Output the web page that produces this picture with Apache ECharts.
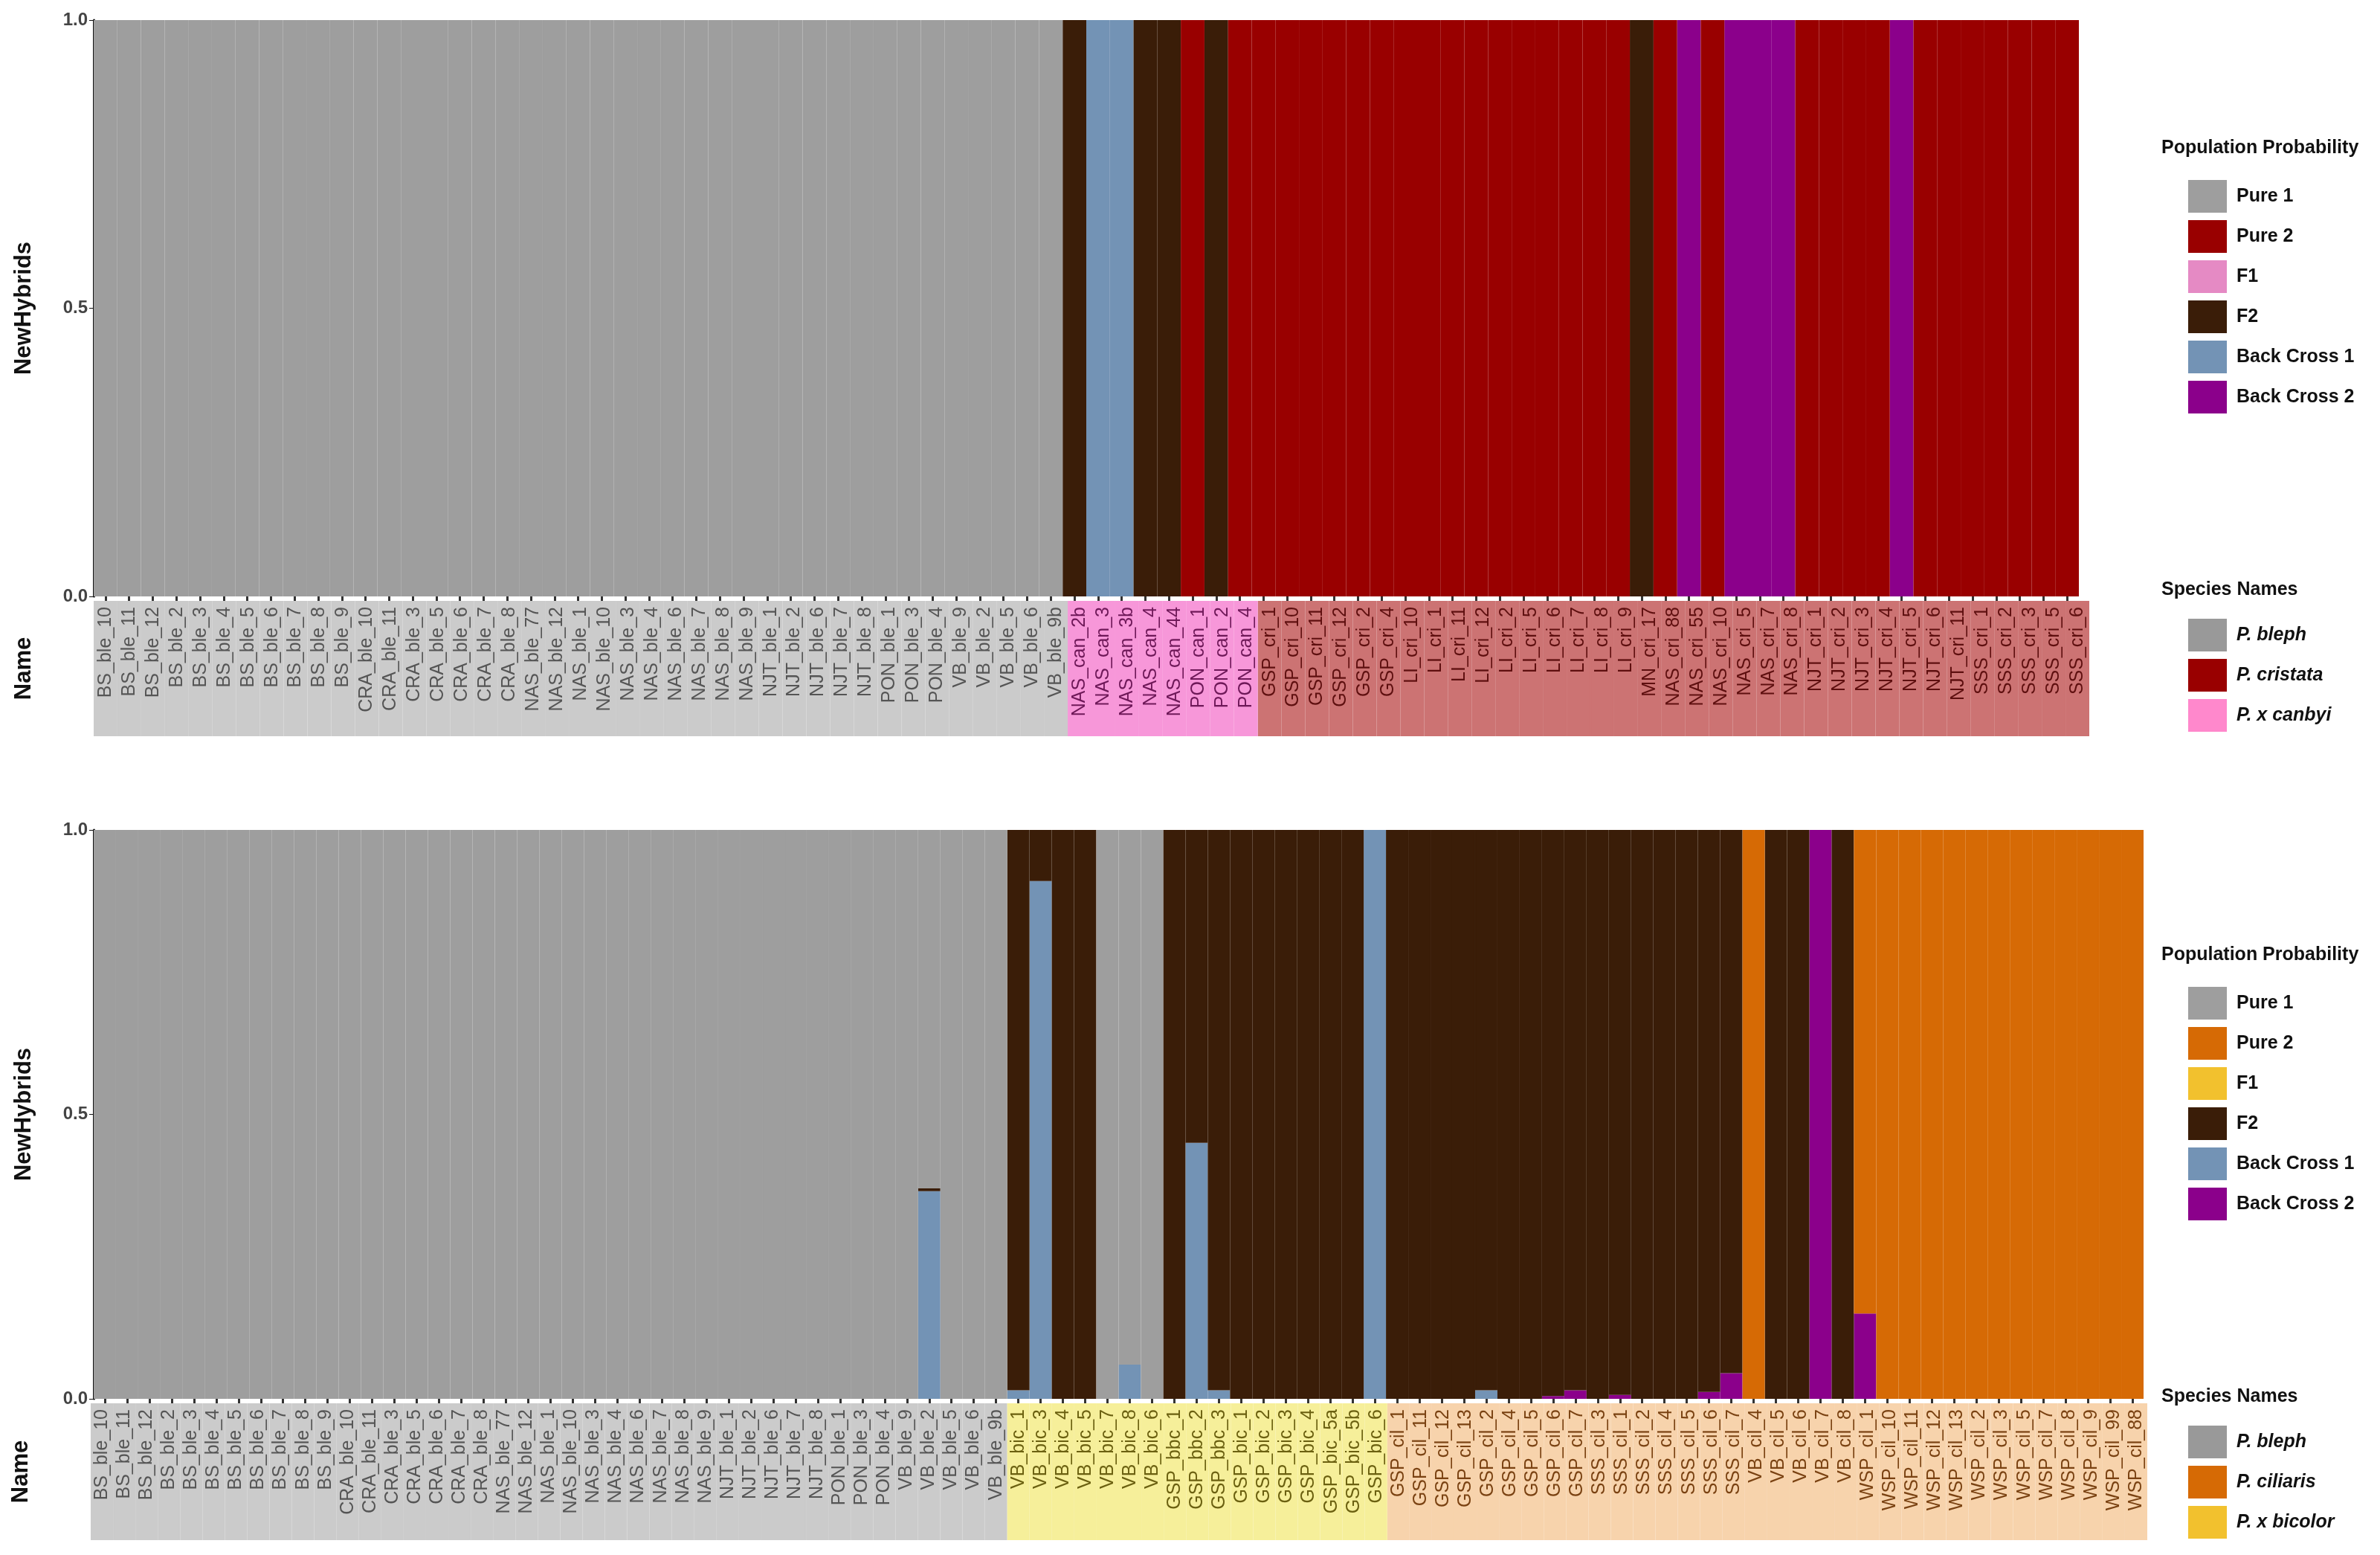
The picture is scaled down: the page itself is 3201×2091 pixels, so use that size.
<!DOCTYPE html>
<html>
<head>
<meta charset="utf-8">
<script src="https://cdn.jsdelivr.net/npm/echarts@6/dist/echarts.min.js"></script>
<style>
  html, body { margin: 0; padding: 0; background: #fff; }
  #chart { width: 3201px; height: 2091px; }
</style>
</head>
<body>
<div id="chart"></div>
<script>
'use strict';

// ---- top panel: P. bleph x P. cristata ----
var topNames = [
    'BS_ble_10', 'BS_ble_11', 'BS_ble_12', 'BS_ble_2', 'BS_ble_3', 'BS_ble_4', 'BS_ble_5', 'BS_ble_6', 'BS_ble_7', 'BS_ble_8', 'BS_ble_9',
    'CRA_ble_10', 'CRA_ble_11', 'CRA_ble_3', 'CRA_ble_5', 'CRA_ble_6', 'CRA_ble_7', 'CRA_ble_8',
    'NAS_ble_77', 'NAS_ble_12', 'NAS_ble_1', 'NAS_ble_10', 'NAS_ble_3', 'NAS_ble_4', 'NAS_ble_6', 'NAS_ble_7', 'NAS_ble_8', 'NAS_ble_9',
    'NJT_ble_1', 'NJT_ble_2', 'NJT_ble_6', 'NJT_ble_7', 'NJT_ble_8',
    'PON_ble_1', 'PON_ble_3', 'PON_ble_4',
    'VB_ble_9', 'VB_ble_2', 'VB_ble_5', 'VB_ble_6', 'VB_ble_9b',
    'NAS_can_2b', 'NAS_can_3', 'NAS_can_3b', 'NAS_can_4', 'NAS_can_44', 'PON_can_1', 'PON_can_2', 'PON_can_4',
    'GSP_cri_1', 'GSP_cri_10', 'GSP_cri_11', 'GSP_cri_12', 'GSP_cri_2', 'GSP_cri_4',
    'LI_cri_10', 'LI_cri_1', 'LI_cri_11', 'LI_cri_12', 'LI_cri_2', 'LI_cri_5', 'LI_cri_6', 'LI_cri_7', 'LI_cri_8', 'LI_cri_9',
    'MN_cri_17', 'NAS_cri_88', 'NAS_cri_55', 'NAS_cri_10', 'NAS_cri_5', 'NAS_cri_7', 'NAS_cri_8',
    'NJT_cri_1', 'NJT_cri_2', 'NJT_cri_3', 'NJT_cri_4', 'NJT_cri_5', 'NJT_cri_6', 'NJT_cri_11',
    'SSS_cri_1', 'SSS_cri_2', 'SSS_cri_3', 'SSS_cri_5', 'SSS_cri_6'
];
// species of each sample (41 ble, 8 can, 35 cri)
var topSpecies = [
    'P. bleph','P. bleph','P. bleph','P. bleph','P. bleph','P. bleph','P. bleph','P. bleph','P. bleph','P. bleph','P. bleph',
    'P. bleph','P. bleph','P. bleph','P. bleph','P. bleph','P. bleph','P. bleph',
    'P. bleph','P. bleph','P. bleph','P. bleph','P. bleph','P. bleph','P. bleph','P. bleph','P. bleph','P. bleph',
    'P. bleph','P. bleph','P. bleph','P. bleph','P. bleph',
    'P. bleph','P. bleph','P. bleph',
    'P. bleph','P. bleph','P. bleph','P. bleph','P. bleph',
    'P. x canbyi','P. x canbyi','P. x canbyi','P. x canbyi','P. x canbyi','P. x canbyi','P. x canbyi','P. x canbyi',
    'P. cristata','P. cristata','P. cristata','P. cristata','P. cristata','P. cristata',
    'P. cristata','P. cristata','P. cristata','P. cristata','P. cristata','P. cristata','P. cristata','P. cristata','P. cristata','P. cristata',
    'P. cristata','P. cristata','P. cristata','P. cristata','P. cristata','P. cristata','P. cristata',
    'P. cristata','P. cristata','P. cristata','P. cristata','P. cristata','P. cristata','P. cristata',
    'P. cristata','P. cristata','P. cristata','P. cristata','P. cristata'
];
var topPure1 = [
    1,1,1,1,1,1,1,1,1,1,1, 1,1,1,1,1,1,1, 1,1,1,1,1,1,1,1,1,1, 1,1,1,1,1, 1,1,1, 1,1,1,1,1,
    0,0,0,0,0,0,0,0,
    0,0,0,0,0,0, 0,0,0,0,0,0,0,0,0,0, 0,0,0,0,0,0,0, 0,0,0,0,0,0,0, 0,0,0,0,0
];
var topPure2 = [
    0,0,0,0,0,0,0,0,0,0,0, 0,0,0,0,0,0,0, 0,0,0,0,0,0,0,0,0,0, 0,0,0,0,0, 0,0,0, 0,0,0,0,0,
    0,0,0,0,0,1,0,1,
    1,1,1,1,1,1, 1,1,1,1,1,1,1,1,1,1, 0,1,0,1,0,0,0, 1,1,1,1,0,1,1, 1,1,1,1,1
];
var topF1 = [
    0,0,0,0,0,0,0,0,0,0,0, 0,0,0,0,0,0,0, 0,0,0,0,0,0,0,0,0,0, 0,0,0,0,0, 0,0,0, 0,0,0,0,0,
    0,0,0,0,0,0,0,0,
    0,0,0,0,0,0, 0,0,0,0,0,0,0,0,0,0, 0,0,0,0,0,0,0, 0,0,0,0,0,0,0, 0,0,0,0,0
];
var topF2 = [
    0,0,0,0,0,0,0,0,0,0,0, 0,0,0,0,0,0,0, 0,0,0,0,0,0,0,0,0,0, 0,0,0,0,0, 0,0,0, 0,0,0,0,0,
    1,0,0,1,1,0,1,0,
    0,0,0,0,0,0, 0,0,0,0,0,0,0,0,0,0, 1,0,0,0,0,0,0, 0,0,0,0,0,0,0, 0,0,0,0,0
];
var topBC1 = [
    0,0,0,0,0,0,0,0,0,0,0, 0,0,0,0,0,0,0, 0,0,0,0,0,0,0,0,0,0, 0,0,0,0,0, 0,0,0, 0,0,0,0,0,
    0,1,1,0,0,0,0,0,
    0,0,0,0,0,0, 0,0,0,0,0,0,0,0,0,0, 0,0,0,0,0,0,0, 0,0,0,0,0,0,0, 0,0,0,0,0
];
var topBC2 = [
    0,0,0,0,0,0,0,0,0,0,0, 0,0,0,0,0,0,0, 0,0,0,0,0,0,0,0,0,0, 0,0,0,0,0, 0,0,0, 0,0,0,0,0,
    0,0,0,0,0,0,0,0,
    0,0,0,0,0,0, 0,0,0,0,0,0,0,0,0,0, 0,0,1,0,1,1,1, 0,0,0,0,1,0,0, 0,0,0,0,0
];

// ---- bottom panel: P. bleph x P. ciliaris ----
var botNames = [
    'BS_ble_10', 'BS_ble_11', 'BS_ble_12', 'BS_ble_2', 'BS_ble_3', 'BS_ble_4', 'BS_ble_5', 'BS_ble_6', 'BS_ble_7', 'BS_ble_8', 'BS_ble_9',
    'CRA_ble_10', 'CRA_ble_11', 'CRA_ble_3', 'CRA_ble_5', 'CRA_ble_6', 'CRA_ble_7', 'CRA_ble_8',
    'NAS_ble_77', 'NAS_ble_12', 'NAS_ble_1', 'NAS_ble_10', 'NAS_ble_3', 'NAS_ble_4', 'NAS_ble_6', 'NAS_ble_7', 'NAS_ble_8', 'NAS_ble_9',
    'NJT_ble_1', 'NJT_ble_2', 'NJT_ble_6', 'NJT_ble_7', 'NJT_ble_8',
    'PON_ble_1', 'PON_ble_3', 'PON_ble_4',
    'VB_ble_9', 'VB_ble_2', 'VB_ble_5', 'VB_ble_6', 'VB_ble_9b',
    'VB_bic_1', 'VB_bic_3', 'VB_bic_4', 'VB_bic_5', 'VB_bic_7', 'VB_bic_8', 'VB_bic_6',
    'GSP_bbc_1', 'GSP_bbc_2', 'GSP_bbc_3',
    'GSP_bic_1', 'GSP_bic_2', 'GSP_bic_3', 'GSP_bic_4', 'GSP_bic_5a', 'GSP_bic_5b', 'GSP_bic_6',
    'GSP_cil_1', 'GSP_cil_11', 'GSP_cil_12', 'GSP_cil_13', 'GSP_cil_2', 'GSP_cil_4', 'GSP_cil_5', 'GSP_cil_6', 'GSP_cil_7',
    'SSS_cil_3', 'SSS_cil_1', 'SSS_cil_2', 'SSS_cil_4', 'SSS_cil_5', 'SSS_cil_6', 'SSS_cil_7',
    'VB_cil_4', 'VB_cil_5', 'VB_cil_6', 'VB_cil_7', 'VB_cil_8',
    'WSP_cil_1', 'WSP_cil_10', 'WSP_cil_11', 'WSP_cil_12', 'WSP_cil_13', 'WSP_cil_2', 'WSP_cil_3',
    'WSP_cil_5', 'WSP_cil_7', 'WSP_cil_8', 'WSP_cil_9', 'WSP_cil_99', 'WSP_cil_88'
];
var botSpecies = [
    'P. bleph','P. bleph','P. bleph','P. bleph','P. bleph','P. bleph','P. bleph','P. bleph','P. bleph','P. bleph','P. bleph',
    'P. bleph','P. bleph','P. bleph','P. bleph','P. bleph','P. bleph','P. bleph',
    'P. bleph','P. bleph','P. bleph','P. bleph','P. bleph','P. bleph','P. bleph','P. bleph','P. bleph','P. bleph',
    'P. bleph','P. bleph','P. bleph','P. bleph','P. bleph',
    'P. bleph','P. bleph','P. bleph',
    'P. bleph','P. bleph','P. bleph','P. bleph','P. bleph',
    'P. x bicolor','P. x bicolor','P. x bicolor','P. x bicolor','P. x bicolor','P. x bicolor','P. x bicolor',
    'P. x bicolor','P. x bicolor','P. x bicolor',
    'P. x bicolor','P. x bicolor','P. x bicolor','P. x bicolor','P. x bicolor','P. x bicolor','P. x bicolor',
    'P. ciliaris','P. ciliaris','P. ciliaris','P. ciliaris','P. ciliaris','P. ciliaris','P. ciliaris','P. ciliaris','P. ciliaris',
    'P. ciliaris','P. ciliaris','P. ciliaris','P. ciliaris','P. ciliaris','P. ciliaris','P. ciliaris',
    'P. ciliaris','P. ciliaris','P. ciliaris','P. ciliaris','P. ciliaris',
    'P. ciliaris','P. ciliaris','P. ciliaris','P. ciliaris','P. ciliaris','P. ciliaris','P. ciliaris',
    'P. ciliaris','P. ciliaris','P. ciliaris','P. ciliaris','P. ciliaris','P. ciliaris'
];
var botPure1 = [
    1,1,1,1,1,1,1,1,1,1,1, 1,1,1,1,1,1,1, 1,1,1,1,1,1,1,1,1,1, 1,1,1,1,1, 1,1,1, 1,0.63,1,1,1,
    0,0,0,0,1,0.94,1, 0,0,0, 0,0,0,0,0,0,0,
    0,0,0,0,0,0,0,0,0, 0,0,0,0,0,0,0, 0,0,0,0,0, 0,0,0,0,0,0,0,0,0,0,0,0,0
];
var botPure2 = [
    0,0,0,0,0,0,0,0,0,0,0, 0,0,0,0,0,0,0, 0,0,0,0,0,0,0,0,0,0, 0,0,0,0,0, 0,0,0, 0,0,0,0,0,
    0,0,0,0,0,0,0, 0,0,0, 0,0,0,0,0,0,0,
    0,0,0,0,0,0,0,0,0, 0,0,0,0,0,0,0, 1,0,0,0,0, 0.85,1,1,1,1,1,1,1,1,1,1,1,1
];
var botF1 = [
    0,0,0,0,0,0,0,0,0,0,0, 0,0,0,0,0,0,0, 0,0,0,0,0,0,0,0,0,0, 0,0,0,0,0, 0,0,0, 0,0,0,0,0,
    0,0,0,0,0,0,0, 0,0,0, 0,0,0,0,0,0,0,
    0,0,0,0,0,0,0,0,0, 0,0,0,0,0,0,0, 0,0,0,0,0, 0,0,0,0,0,0,0,0,0,0,0,0,0
];
var botF2 = [
    0,0,0,0,0,0,0,0,0,0,0, 0,0,0,0,0,0,0, 0,0,0,0,0,0,0,0,0,0, 0,0,0,0,0, 0,0,0, 0,0.005,0,0,0,
    0.985,0.09,1,1,0,0,0, 1,0.55,0.985, 1,1,1,1,1,1,0,
    1,1,1,1,0.985,1,1,0.995,0.985, 1,0.993,1,1,1,0.988,0.955, 0,1,1,0,1, 0,0,0,0,0,0,0,0,0,0,0,0,0
];
var botBC1 = [
    0,0,0,0,0,0,0,0,0,0,0, 0,0,0,0,0,0,0, 0,0,0,0,0,0,0,0,0,0, 0,0,0,0,0, 0,0,0, 0,0.365,0,0,0,
    0.015,0.91,0,0,0,0.06,0, 0,0.45,0.015, 0,0,0,0,0,0,1,
    0,0,0,0,0.015,0,0,0,0, 0,0,0,0,0,0,0, 0,0,0,0,0, 0,0,0,0,0,0,0,0,0,0,0,0,0
];
var botBC2 = [
    0,0,0,0,0,0,0,0,0,0,0, 0,0,0,0,0,0,0, 0,0,0,0,0,0,0,0,0,0, 0,0,0,0,0, 0,0,0, 0,0,0,0,0,
    0,0,0,0,0,0,0, 0,0,0, 0,0,0,0,0,0,0,
    0,0,0,0,0,0,0,0.005,0.015, 0,0.007,0,0,0,0.012,0.045, 0,0,0,1,0, 0.15,0,0,0,0,0,0,0,0,0,0,0,0
];

var classNames = ['Pure 1', 'Pure 2', 'F1', 'F2', 'Back Cross 1', 'Back Cross 2'];
var topClassColors = ['#9e9e9e', '#990000', '#e58ac4', '#3a1d08', '#7393b5', '#8b008b'];
var botClassColors = ['#9e9e9e', '#d66a05', '#f2c12e', '#3a1d08', '#7393b5', '#8b008b'];

var topSpeciesNames = ['P. bleph', 'P. cristata', 'P. x canbyi'];
var topSpeciesSwatch = ['#999999', '#990000', '#ff88cc'];
var topSpeciesBand = ['#cbcbcb', '#cc7373', '#f797d9'];
var topSpeciesText = ['#555555', '#5e0f0f', '#6e1858'];
var botSpeciesNames = ['P. bleph', 'P. ciliaris', 'P. x bicolor'];
var botSpeciesSwatch = ['#999999', '#d66a05', '#f2c12e'];
var botSpeciesBand = ['#cbcbcb', '#f7d3ac', '#f6ef9a'];
var botSpeciesText = ['#555555', '#7a4212', '#6b6010'];

var dataChart = echarts.init(document.getElementById('chart'));

function stackSeries(axisIdx, colors, vals) {
    // stacking order from the bottom: BC2, BC1, F2, F1, Pure 2, Pure 1
    var order = [5, 4, 3, 2, 1, 0];
    return order.map(function(k) {
        return {
            name: classNames[k],
            type: 'bar',
            stack: 'prob' + axisIdx,
            xAxisIndex: axisIdx,
            yAxisIndex: axisIdx,
            barCategoryGap: '0%',
            itemStyle: { color: colors[k], borderColor: colors[k], borderWidth: 1.5 },
            data: vals[k].map(function(v) { return v === 0 ? '-' : v; }),
            silent: true
        };
    });
}

function bandSeries(axisIdx, species, names, bandColors) {
    return names.map(function(n, k) {
        return {
            name: n,
            type: 'bar',
            stack: 'band' + axisIdx,
            xAxisIndex: axisIdx,
            yAxisIndex: axisIdx,
            barCategoryGap: '0%',
            itemStyle: { color: bandColors[k], borderColor: bandColors[k], borderWidth: 1.5 },
            data: species.map(function(s) { return s === n ? 1 : '-'; }),
            silent: true
        };
    });
}

function mainX(grid, names) {
    return {
        type: 'category', gridIndex: grid, data: names,
        axisLine: { show: false },
        axisTick: { show: true, interval: 0, alignWithLabel: true, length: 9, lineStyle: { color: '#333', width: 3 } },
        axisLabel: { show: false, interval: 0 }
    };
}
function bandX(grid, names, species, spNames, spText) {
    return {
        type: 'category', gridIndex: grid, data: names, position: 'top', z: 10,
        axisLine: { show: false }, axisTick: { show: false },
        axisLabel: {
            show: true, inside: true, rotate: 90, interval: 0, margin: 8,
            fontSize: 25, fontFamily: 'Liberation Sans',
            color: function(v, i) { return spText[spNames.indexOf(species[i])]; }
        }
    };
}
function mainY(grid) {
    return {
        type: 'value', gridIndex: grid, min: 0, max: 1, interval: 0.5,
        name: 'NewHybrids', nameLocation: 'middle', nameGap: 78, nameRotate: 90,
        nameTextStyle: { fontSize: 31, fontWeight: 'bold', color: '#111', fontFamily: 'Liberation Sans' },
        axisLine: { show: true, lineStyle: { color: '#111', width: 3 } },
        axisTick: { show: true, length: 6, lineStyle: { color: '#111' } },
        splitLine: { show: false },
        axisLabel: { fontSize: 24, color: '#444', fontWeight: 'bold', fontFamily: 'Liberation Sans',
            formatter: function(v) { return v.toFixed(1); } }
    };
}
function bandY(grid) {
    return {
        type: 'value', gridIndex: grid, min: 0, max: 1,
        name: 'Name', nameLocation: 'middle', nameGap: 78, nameRotate: 90,
        nameTextStyle: { fontSize: 31, fontWeight: 'bold', color: '#111', fontFamily: 'Liberation Sans' },
        axisLine: { show: false }, axisTick: { show: false }, axisLabel: { show: false },
        splitLine: { show: false }
    };
}
function classLegend(top, colors) {
    return {
        orient: 'vertical', left: 2938, top: top, itemWidth: 52, itemHeight: 44, itemGap: 10,
        selectedMode: false, icon: 'rect',
        textStyle: { fontSize: 25, fontWeight: 'bold', color: '#111', fontFamily: 'Liberation Sans', padding: [0, 0, 0, 8] },
        data: classNames.map(function(n, k) { return { name: n, itemStyle: { color: colors[k], borderWidth: 0 } }; })
    };
}
function speciesLegend(top, names, swatches) {
    return {
        orient: 'vertical', left: 2938, top: top, itemWidth: 52, itemHeight: 44, itemGap: 10,
        selectedMode: false, icon: 'rect',
        textStyle: { fontSize: 25, fontWeight: 'bold', fontStyle: 'italic', color: '#111', fontFamily: 'Liberation Sans', padding: [0, 0, 0, 8] },
        data: names.map(function(n, k) { return { name: n, itemStyle: { color: swatches[k], borderWidth: 0 } }; })
    };
}
var titleStyle = { fontSize: 25, fontWeight: 'bold', color: '#111', fontFamily: 'Liberation Sans' };

var option = {
    animation: false,
    backgroundColor: '#fff',
    title: [
        { text: 'Population Probability', left: 2902, top: 182, textStyle: titleStyle },
        { text: 'Species Names', left: 2902, top: 776, textStyle: titleStyle },
        { text: 'Population Probability', left: 2902, top: 1267, textStyle: titleStyle },
        { text: 'Species Names', left: 2902, top: 1861, textStyle: titleStyle }
    ],
    legend: [
        classLegend(237, topClassColors),
        speciesLegend(827, topSpeciesNames, topSpeciesSwatch),
        classLegend(1322, botClassColors),
        speciesLegend(1912, botSpeciesNames, botSpeciesSwatch)
    ],
    grid: [
        { left: 126, top: 27, width: 2670, height: 775 },
        { left: 126, top: 808, width: 2684, height: 182 },
        { left: 126, top: 1116, width: 2757, height: 765 },
        { left: 122, top: 1887, width: 2766, height: 184 }
    ],
    xAxis: [
        mainX(0, topNames),
        bandX(1, topNames, topSpecies, topSpeciesNames, topSpeciesText),
        mainX(2, botNames),
        bandX(3, botNames, botSpecies, botSpeciesNames, botSpeciesText)
    ],
    yAxis: [mainY(0), bandY(1), mainY(2), bandY(3)],
    series: [].concat(
        stackSeries(0, topClassColors, [topPure1, topPure2, topF1, topF2, topBC1, topBC2]),
        bandSeries(1, topSpecies, topSpeciesNames, topSpeciesBand),
        stackSeries(2, botClassColors, [botPure1, botPure2, botF1, botF2, botBC1, botBC2]),
        bandSeries(3, botSpecies, botSpeciesNames, botSpeciesBand)
    )
};
dataChart.setOption(option);
</script>
</body>
</html>
